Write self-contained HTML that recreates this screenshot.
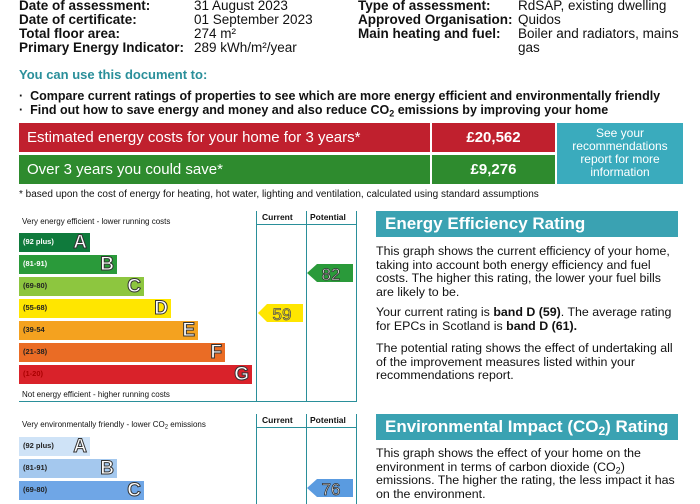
<!DOCTYPE html>
<html><head><meta charset="utf-8"><style>
*{margin:0;padding:0;box-sizing:border-box}
body{width:700px;height:500px;overflow:hidden;background:#fff;font-family:"Liberation Sans",Arial,sans-serif;color:#111;position:relative}
sub{line-height:0;vertical-align:-0.25em}
.a{position:absolute;white-space:nowrap}
.h{font-size:13.5px;line-height:14px}
.b{font-weight:bold}
.bar{position:absolute;left:19px;height:19px;color:#fff}
.bar .r{position:absolute;left:4px;top:4px;font-size:7.5px;font-weight:bold;color:#fff}
.bar .l{position:absolute;right:3px;top:-1px;font-size:19px;font-weight:bold;color:#fff;-webkit-text-stroke:1px #333}
.p{font-size:12.4px;line-height:13.5px;color:#111}
</style></head><body>
<div class="a h b" style="left:19px;top:-1px">Date of assessment:</div>
<div class="a h b" style="left:19px;top:13px">Date of certificate:</div>
<div class="a h b" style="left:19px;top:27px">Total floor area:</div>
<div class="a h b" style="left:19px;top:41px">Primary Energy Indicator:</div>
<div class="a h" style="left:194px;top:-1px">31 August 2023</div>
<div class="a h" style="left:194px;top:13px">01 September 2023</div>
<div class="a h" style="left:194px;top:27px">274 m²</div>
<div class="a h" style="left:194px;top:41px">289 kWh/m²/year</div>
<div class="a h b" style="left:358px;top:-1px">Type of assessment:</div>
<div class="a h b" style="left:358px;top:13px">Approved Organisation:</div>
<div class="a h b" style="left:358px;top:27px">Main heating and fuel:</div>
<div class="a h" style="left:518px;top:-1px">RdSAP, existing dwelling</div>
<div class="a h" style="left:518px;top:13px">Quidos</div>
<div class="a h" style="left:518px;top:27px">Boiler and radiators, mains</div>
<div class="a h" style="left:518px;top:41px">gas</div>
<div class="a b" style="left:19px;top:67px;font-size:13px;color:#2a8f9a">You can use this document to:</div>
<div class="a b" style="left:19px;top:89px;font-size:12.5px">·&nbsp; Compare current ratings of properties to see which are more energy efficient and environmentally friendly</div>
<div class="a b" style="left:19px;top:103px;font-size:12.5px">·&nbsp; Find out how to save energy and money and also reduce CO<sub style="font-size:9px">2</sub> emissions by improving your home</div>
<div class="a" style="left:19px;top:123px;width:411px;height:29px;background:#c0202e;color:#fff;font-size:15px;padding:6px 0 0 8px">Estimated energy costs for your home for 3 years*</div>
<div class="a b" style="left:432px;top:123px;width:123px;height:29px;background:#c0202e;color:#fff;font-size:15px;text-align:center;padding-top:6px">£20,562</div>
<div class="a" style="left:19px;top:155px;width:411px;height:29px;background:#2e8b2e;color:#fff;font-size:15px;padding:6px 0 0 8px">Over 3 years you could save*</div>
<div class="a b" style="left:432px;top:155px;width:123px;height:29px;background:#2e8b2e;color:#fff;font-size:15px;text-align:center;padding-top:6px">£9,276</div>
<div class="a" style="left:557px;top:123px;width:126px;height:61px;background:#3aabbd;color:#fff;font-size:12px;line-height:13px;text-align:center;padding-top:4px;white-space:normal">See your recommendations report for more information</div>
<div class="a" style="left:19px;top:189px;font-size:10px">* based upon the cost of energy for heating, hot water, lighting and ventilation, calculated using standard assumptions</div>

<div class="a" style="left:256px;top:211px;width:101px;height:191px;border-left:1.5px solid #2a8f9a;border-right:1.5px solid #2a8f9a"></div>
<div class="a" style="left:306px;top:211px;width:0;height:191px;border-left:1.5px solid #2a8f9a"></div>
<div class="a" style="left:256px;top:224px;width:101px;border-top:1.5px solid #2a8f9a"></div>
<div class="a" style="left:19px;top:401px;width:338px;border-top:1.5px solid #2a8f9a"></div>
<div class="a b" style="left:262px;top:212px;font-size:8.5px">Current</div>
<div class="a b" style="left:310px;top:212px;font-size:8.5px">Potential</div>
<div class="a" style="left:22px;top:217px;font-size:8px">Very energy efficient - lower running costs</div>
<div class="a" style="left:22px;top:390px;font-size:8px">Not energy efficient - higher running costs</div>
<div class="bar" style="top:233px;width:71px;background:#0f7a3c"><span class="r">(92 plus)</span><span class="l">A</span></div>
<div class="bar" style="top:255px;width:98px;background:#2a9a3a"><span class="r">(81-91)</span><span class="l">B</span></div>
<div class="bar" style="top:277px;width:125px;background:#8dc63f"><span class="r" style="color:#222">(69-80)</span><span class="l">C</span></div>
<div class="bar" style="top:299px;width:152px;background:#ffe600"><span class="r" style="color:#222">(55-68)</span><span class="l">D</span></div>
<div class="bar" style="top:321px;width:179px;background:#f4a21f"><span class="r" style="color:#222">(39-54</span><span class="l">E</span></div>
<div class="bar" style="top:343px;width:206px;background:#ea6c25"><span class="r" style="color:#222">(21-38)</span><span class="l">F</span></div>
<div class="bar" style="top:365px;width:233px;background:#d9222a"><span class="r" style="color:#a00">(1-20)</span><span class="l">G</span></div>
<svg class="a" style="left:0;top:0" width="700" height="500">
<polygon points="258,313 267,304 303,304 303,322 267,322" fill="#ffe600"/>
<text x="282" y="320" font-family="Liberation Sans" font-size="17" text-anchor="middle" fill="#ffe600" stroke="#555" stroke-width="0.8">59</text>
<polygon points="307,273 317,264 353,264 353,282 317,282" fill="#2a9a3a"/>
<text x="331" y="280" font-family="Liberation Sans" font-size="17" text-anchor="middle" fill="#fff" stroke="#333" stroke-width="0.8">82</text>
<polygon points="307,488 317,479 353,479 353,497 317,497" fill="#5a9be0"/>
<text x="331" y="495" font-family="Liberation Sans" font-size="17" text-anchor="middle" fill="#fff" stroke="#333" stroke-width="0.8">76</text>
</svg>

<div class="a" style="left:256px;top:414px;width:101px;height:90px;border-left:1.5px solid #2a8f9a;border-right:1.5px solid #2a8f9a"></div>
<div class="a" style="left:306px;top:414px;width:0;height:90px;border-left:1.5px solid #2a8f9a"></div>
<div class="a" style="left:256px;top:427px;width:101px;border-top:1.5px solid #2a8f9a"></div>
<div class="a b" style="left:262px;top:415px;font-size:8.5px">Current</div>
<div class="a b" style="left:310px;top:415px;font-size:8.5px">Potential</div>
<div class="a" style="left:22px;top:420px;font-size:8px">Very environmentally friendly - lower CO<sub style="font-size:6px">2</sub> emissions</div>
<div class="bar" style="top:437px;width:71px;background:#cfe3f7"><span class="r" style="color:#222">(92 plus)</span><span class="l">A</span></div>
<div class="bar" style="top:459px;width:98px;background:#a4c8ee"><span class="r" style="color:#222">(81-91)</span><span class="l">B</span></div>
<div class="bar" style="top:481px;width:125px;background:#6fa6e6"><span class="r" style="color:#222">(69-80)</span><span class="l">C</span></div>

<div class="a b" style="left:376px;top:211px;width:302px;height:26px;background:#3aa2b2;color:#fff;font-size:17px;padding:3px 0 0 9px">Energy Efficiency Rating</div>
<div class="a p" style="left:376px;top:245px;white-space:normal;width:305px">This graph shows the current efficiency of your home, taking into account both energy efficiency and fuel costs. The higher this rating, the lower your fuel bills are likely to be.</div>
<div class="a p" style="left:376px;top:306px;white-space:normal;width:305px">Your current rating is <b>band D (59)</b>. The average rating for EPCs in Scotland is <b>band D (61).</b></div>
<div class="a p" style="left:376px;top:342px;white-space:normal;width:305px">The potential rating shows the effect of undertaking all of the improvement measures listed within your recommendations report.</div>
<div class="a b" style="left:376px;top:414px;width:302px;height:26px;background:#3aa2b2;color:#fff;font-size:17px;padding:3px 0 0 9px">Environmental Impact (CO<sub style="font-size:12px">2</sub>) Rating</div>
<div class="a p" style="left:376px;top:447px;white-space:normal;width:305px">This graph shows the effect of your home on the environment in terms of carbon dioxide (CO<sub style="font-size:9px">2</sub>) emissions. The higher the rating, the less impact it has on the environment.</div>
</body></html>
